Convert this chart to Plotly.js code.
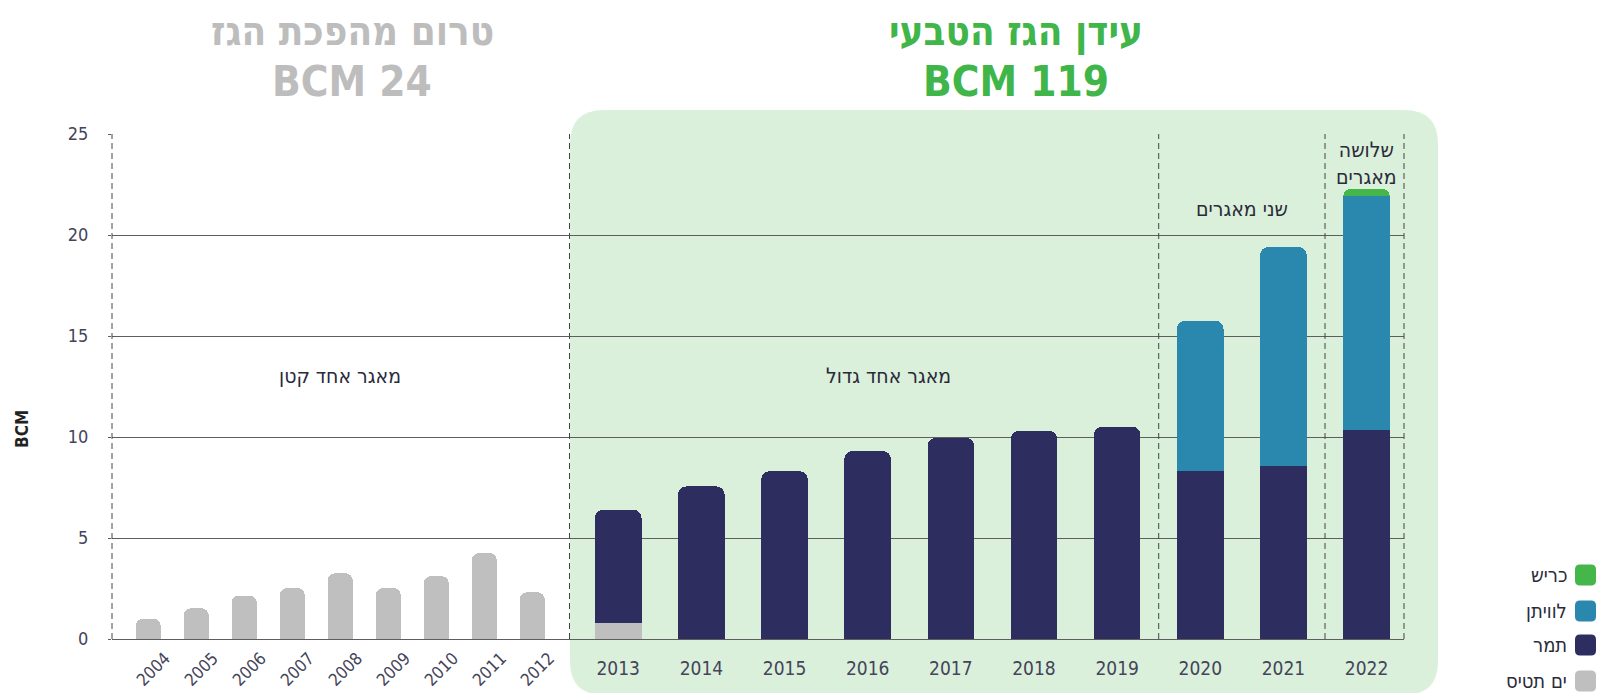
<!DOCTYPE html>
<html>
<head>
<meta charset="utf-8">
<script src="https://cdn.plot.ly/plotly-3.0.1.min.js"></script>
<style>
html,body{margin:0;padding:0;background:#fff;}
svg text{font-stretch:condensed;}
</style>
</head>
<body>
<div id="chart" style="width:1601px;height:693px;"></div>
<script>
// ---- data ----
const years = ['2004','2005','2006','2007','2008','2009','2010','2011','2012','2013','2014','2015','2016','2017','2018','2019','2020','2021','2022'];
const yamTethys = [1.0, 1.52, 2.15, 2.52, 3.25, 2.52, 3.11, 4.25, 2.31, 0.8, null, null, null, null, null, null, null, null, null];
const tamar     = [null, null, null, null, null, null, null, null, null, 5.6, 7.55, 8.3, 9.3, 9.95, 10.3, 10.5, 8.3, 8.55, 10.35];
const leviathan = [null, null, null, null, null, null, null, null, null, null, null, null, null, null, null, null, 7.45, 10.85, 11.6];
const karish    = [null, null, null, null, null, null, null, null, null, null, null, null, null, null, null, null, null, null, 0.35];
const seriesNames = ['ים תטיס', 'תמר', 'לוויתן', 'כריש'];
const seriesColors = ['#BFBFBF', '#2D2E5F', '#2A87AE', '#45B649'];
const yTicks = [0, 5, 10, 15, 20, 25];
const titleLeft = ['טרום מהפכת הגז', 'BCM 24'];
const titleRight = ['עידן הגז הטבעי', 'BCM 119'];
const periodLabels = ['מאגר אחד קטן', 'מאגר אחד גדול', 'שני מאגרים', 'שלושה<br>מאגרים'];
const yTitle = 'BCM';

// ---- geometry helpers (layout only) ----
const W = 1601, H = 693, L = 112, R = 197, T = 134, B = 54;
const PW = W - L - R, PH = H - T - B;
const px = x => (x - L) / PW;
const py = y => (H - B - y) / PH;
const FONT = "'DejaVu Sans Condensed', 'DejaVu Sans', sans-serif";
const split = 9;
const allSeries = [yamTethys, tamar, leviathan, karish];

const traces = [];
traces.push({
  type: 'bar', x: years.slice(0, split), y: yamTethys.slice(0, split),
  xaxis: 'x', yaxis: 'y', width: 0.52, name: seriesNames[0],
  marker: {color: seriesColors[0], cornerradius: 7}, showlegend: false, hoverinfo: 'x+y'
});
allSeries.forEach((s, i) => {
  traces.push({
    type: 'bar', x: years.slice(split), y: s.slice(split),
    xaxis: 'x2', yaxis: 'y', width: 0.56, name: seriesNames[i],
    marker: {color: seriesColors[i], cornerradius: 8}, showlegend: false, hoverinfo: 'x+y'
  });
});

const bgL = px(570), bgR = px(1438), bgT = py(110), bgB = py(695);
const rx = 34 / PW, ry = 34 / PH;
const bgPath = `M ${bgL + rx},${bgT} L ${bgR - rx},${bgT} Q ${bgR},${bgT} ${bgR},${bgT - ry} ` +
  `L ${bgR},${bgB + ry} Q ${bgR},${bgB} ${bgR - rx},${bgB} L ${bgL + rx},${bgB} Q ${bgL},${bgB} ${bgL},${bgB + ry} ` +
  `L ${bgL},${bgT - ry} Q ${bgL},${bgT} ${bgL + rx},${bgT} Z`;

const dashLine = {color: '#444', width: 1, dash: '6px,4px'};
const shapes = [
  {type: 'path', xref: 'paper', yref: 'paper', path: bgPath, fillcolor: '#DAF0DB', line: {width: 0}, layer: 'below'},
  {type: 'line', xref: 'x domain', yref: 'y', x0: 0, x1: 0, y0: 0, y1: 25, line: dashLine},
  {type: 'line', xref: 'x domain', yref: 'y', x0: 1, x1: 1, y0: 0, y1: 25, line: dashLine},
  {type: 'line', xref: 'x2', yref: 'y', x0: 6.5, x1: 6.5, y0: 0, y1: 25, line: dashLine},
  {type: 'line', xref: 'x2', yref: 'y', x0: 8.5, x1: 8.5, y0: 0, y1: 25, line: dashLine},
  {type: 'line', xref: 'x2 domain', yref: 'y', x0: 1, x1: 1, y0: 0, y1: 25, line: dashLine}
];

function ann(o) { return Object.assign({showarrow: false, xanchor: 'center', yanchor: 'middle'}, o); }
const annotations = [
  ann({xref: 'paper', yref: 'paper', x: px(352), y: py(31), text: titleLeft[0],
   font: {family: FONT, size: 40, color: '#BDBDBD', weight: 'bold'}}),
  ann({xref: 'paper', yref: 'paper', x: px(352), y: py(82), text: titleLeft[1],
   font: {family: FONT, size: 42, color: '#BDBDBD', weight: 'bold'}}),
  ann({xref: 'paper', yref: 'paper', x: px(1016), y: py(31), text: titleRight[0],
   font: {family: FONT, size: 40, color: '#3FB54A', weight: 'bold'}}),
  ann({xref: 'paper', yref: 'paper', x: px(1016), y: py(82), text: titleRight[1],
   font: {family: FONT, size: 42, color: '#3FB54A', weight: 'bold'}}),
  ann({xref: 'paper', yref: 'paper', x: px(22), y: py(429), text: yTitle, textangle: -90,
   font: {family: FONT, size: 17, color: '#222', weight: 'bold'}}),
  ann({xref: 'x', yref: 'y', x: 4, y: 13, text: periodLabels[0],
   font: {family: FONT, size: 21, color: '#2a2a3a'}}),
  ann({xref: 'x2', yref: 'y', x: 3.25, y: 13, text: periodLabels[1],
   font: {family: FONT, size: 21, color: '#2a2a3a'}}),
  ann({xref: 'x2', yref: 'y', x: 7.5, y: 21.3, text: periodLabels[2],
   font: {family: FONT, size: 21, color: '#2a2a3a'}}),
  ann({xref: 'x2', yref: 'y', x: 9, y: 23.55, text: periodLabels[3],
   font: {family: FONT, size: 21, color: '#2a2a3a'}})
];

// custom legend (symbol on the right, top item = last series)
const legendY = [575, 611, 645, 681];
for (let k = 0; k < seriesNames.length; k++) {
  const i = seriesNames.length - 1 - k;
  const cy = legendY[k];
  annotations.push(ann({xref: 'paper', yref: 'paper', x: px(1569), y: py(cy), xanchor: 'right', text: seriesNames[i],
    font: {family: FONT, size: 20, color: '#2a2a3a'}}));
  const x0 = px(1575), x1 = px(1596), y0 = py(cy + 10.5), y1 = py(cy - 10.5);
  const rr = 5 / PW, rv = 5 / PH;
  shapes.push({type: 'path', xref: 'paper', yref: 'paper', fillcolor: seriesColors[i], line: {width: 0},
    path: `M ${x0 + rr},${y1} L ${x1 - rr},${y1} Q ${x1},${y1} ${x1},${y1 - rv} L ${x1},${y0 + rv} Q ${x1},${y0} ${x1 - rr},${y0} ` +
          `L ${x0 + rr},${y0} Q ${x0},${y0} ${x0},${y0 + rv} L ${x0},${y1 - rv} Q ${x0},${y1} ${x0 + rr},${y1} Z`});
}

const dom = (569.5 - L) / PW;
const layout = {
  width: W, height: H, autosize: false,
  margin: {l: L, r: R, t: T, b: B, pad: 0},
  paper_bgcolor: '#ffffff', plot_bgcolor: 'rgba(0,0,0,0)',
  barmode: 'stack', showlegend: false,
  font: {family: FONT, color: '#44445a'},
  xaxis: {domain: [0, dom], range: [-0.755, 8.776], type: 'category', anchor: 'y',
    tickangle: -45, showgrid: false, zeroline: false, showline: false, ticks: '',
    tickfont: {family: FONT, size: 17, color: '#44445a'}, ticklabelstandoff: 5, ticklabelshift: 17,
    automargin: false, fixedrange: true},
  xaxis2: {domain: [dom, 1], range: [-0.586, 9.45], type: 'category', anchor: 'y',
    showgrid: false, zeroline: false, showline: false, ticks: '',
    tickfont: {family: FONT, size: 19, color: '#44445a'}, ticklabelstandoff: 16,
    automargin: false, fixedrange: true},
  yaxis: {range: [0, 25], tickvals: yTicks, showgrid: true, gridcolor: '#5e5e5e', gridwidth: 1,
    zeroline: true, zerolinecolor: '#5e5e5e', zerolinewidth: 1, showline: false,
    ticks: 'outside', ticklen: 3, tickcolor: '#5e5e5e', ticklabelstandoff: 16,
    tickfont: {family: FONT, size: 18, color: '#44445a'}, automargin: false, fixedrange: true},
  shapes: shapes,
  annotations: annotations
};

Plotly.newPlot('chart', traces, layout, {displayModeBar: false, staticPlot: true});
</script>
</body>
</html>
